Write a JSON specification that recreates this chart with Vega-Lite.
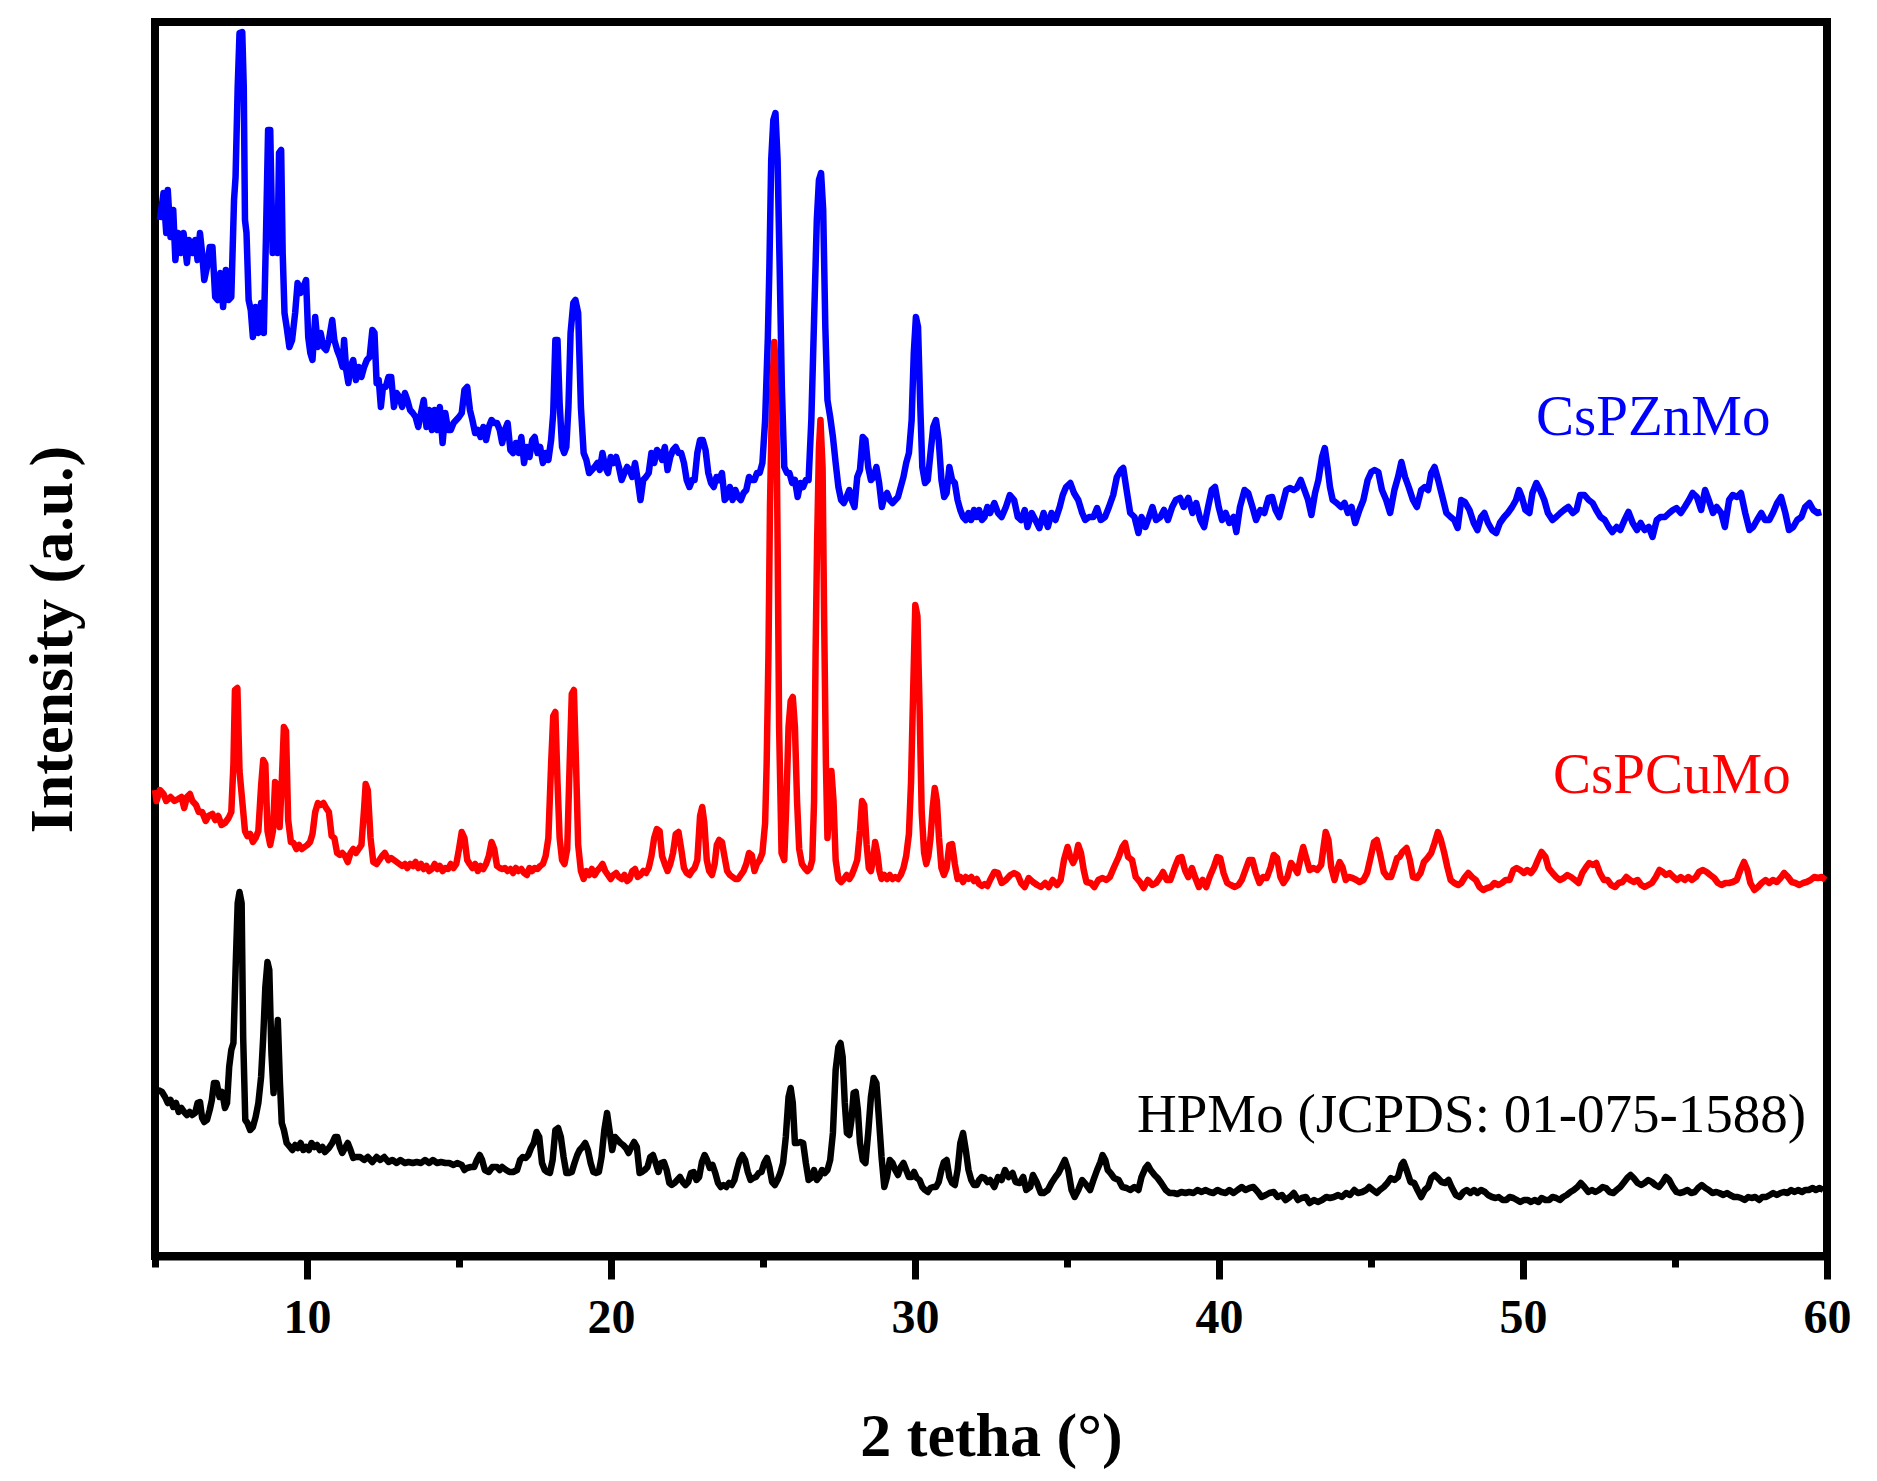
{
"$schema":"https://vega.github.io/schema/vega-lite/v6.json",
"autosize":{"type":"none"},
"width":1672,"height":1234,
"padding":{"left":155,"top":22,"right":50,"bottom":225},
"background":"white",
"config":{"view":{"stroke":"#000000","strokeWidth":8},"font":"Liberation Serif"},
"datasets":{
"zn":[{"x":5.16,"y":1036},{"x":5.28,"y":1063},{"x":5.37,"y":1023},{"x":5.42,"y":1066},{"x":5.51,"y":1019},{"x":5.6,"y":1046},{"x":5.67,"y":996},{"x":5.76,"y":1023},{"x":5.85,"y":1003},{"x":5.94,"y":1023},{"x":6.05,"y":993},{"x":6.12,"y":1016},{"x":6.23,"y":1003},{"x":6.32,"y":1016},{"x":6.4,"y":996},{"x":6.48,"y":1023},{"x":6.55,"y":1003},{"x":6.62,"y":976},{"x":6.71,"y":989},{"x":6.8,"y":1009},{"x":6.89,"y":1009},{"x":6.98,"y":959},{"x":7.06,"y":956},{"x":7.15,"y":983},{"x":7.24,"y":949},{"x":7.33,"y":986},{"x":7.42,"y":956},{"x":7.51,"y":959},{"x":7.6,"y":1056},{"x":7.65,"y":1079},{"x":7.72,"y":1169},{"x":7.78,"y":1223},{"x":7.87,"y":1224},{"x":7.92,"y":1169},{"x":7.96,"y":1036},{"x":8.01,"y":1023},{"x":8.08,"y":956},{"x":8.15,"y":946},{"x":8.22,"y":919},{"x":8.31,"y":949},{"x":8.4,"y":923},{"x":8.49,"y":953},{"x":8.58,"y":923},{"x":8.65,"y":1019},{"x":8.72,"y":1126},{"x":8.79,"y":1126},{"x":8.87,"y":1003},{"x":8.94,"y":1016},{"x":9.03,"y":1003},{"x":9.08,"y":1103},{"x":9.15,"y":1106},{"x":9.2,"y":1003},{"x":9.26,"y":943},{"x":9.33,"y":929},{"x":9.42,"y":909},{"x":9.51,"y":916},{"x":9.61,"y":943},{"x":9.69,"y":973},{"x":9.79,"y":963},{"x":9.88,"y":969},{"x":9.97,"y":976},{"x":10.04,"y":919},{"x":10.11,"y":903},{"x":10.18,"y":896},{"x":10.27,"y":939},{"x":10.36,"y":909},{"x":10.45,"y":923},{"x":10.54,"y":909},{"x":10.63,"y":906},{"x":10.72,"y":916},{"x":10.83,"y":936},{"x":10.9,"y":916},{"x":10.99,"y":906},{"x":11.08,"y":899},{"x":11.17,"y":889},{"x":11.22,"y":916},{"x":11.29,"y":886},{"x":11.36,"y":873},{"x":11.43,"y":889},{"x":11.52,"y":896},{"x":11.61,"y":876},{"x":11.7,"y":889},{"x":11.79,"y":879},{"x":11.88,"y":889},{"x":11.97,"y":896},{"x":12.06,"y":899},{"x":12.15,"y":926},{"x":12.22,"y":923},{"x":12.29,"y":873},{"x":12.36,"y":876},{"x":12.43,"y":849},{"x":12.5,"y":869},{"x":12.59,"y":869},{"x":12.68,"y":879},{"x":12.77,"y":879},{"x":12.86,"y":849},{"x":12.95,"y":863},{"x":13.04,"y":859},{"x":13.13,"y":849},{"x":13.22,"y":863},{"x":13.3,"y":856},{"x":13.39,"y":846},{"x":13.48,"y":843},{"x":13.57,"y":839},{"x":13.66,"y":829},{"x":13.75,"y":843},{"x":13.84,"y":856},{"x":13.93,"y":829},{"x":14.02,"y":846},{"x":14.11,"y":826},{"x":14.2,"y":846},{"x":14.29,"y":826},{"x":14.37,"y":849},{"x":14.46,"y":813},{"x":14.55,"y":843},{"x":14.64,"y":826},{"x":14.73,"y":826},{"x":14.82,"y":833},{"x":14.91,"y":836},{"x":15.0,"y":839},{"x":15.09,"y":843},{"x":15.18,"y":866},{"x":15.27,"y":869},{"x":15.36,"y":846},{"x":15.44,"y":836},{"x":15.53,"y":823},{"x":15.62,"y":826},{"x":15.71,"y":819},{"x":15.8,"y":829},{"x":15.89,"y":816},{"x":15.98,"y":829},{"x":16.07,"y":836},{"x":16.16,"y":833},{"x":16.25,"y":833},{"x":16.34,"y":826},{"x":16.42,"y":813},{"x":16.51,"y":826},{"x":16.6,"y":833},{"x":16.69,"y":806},{"x":16.78,"y":803},{"x":16.87,"y":813},{"x":16.96,"y":803},{"x":17.05,"y":819},{"x":17.14,"y":793},{"x":17.23,"y":809},{"x":17.32,"y":799},{"x":17.41,"y":816},{"x":17.49,"y":819},{"x":17.58,"y":803},{"x":17.67,"y":809},{"x":17.76,"y":793},{"x":17.85,"y":803},{"x":17.94,"y":796},{"x":18.03,"y":816},{"x":18.1,"y":843},{"x":18.17,"y":916},{"x":18.24,"y":916},{"x":18.31,"y":853},{"x":18.39,"y":809},{"x":18.46,"y":803},{"x":18.53,"y":809},{"x":18.6,"y":849},{"x":18.67,"y":923},{"x":18.76,"y":953},{"x":18.83,"y":956},{"x":18.92,"y":943},{"x":19.01,"y":849},{"x":19.1,"y":803},{"x":19.19,"y":796},{"x":19.28,"y":783},{"x":19.37,"y":786},{"x":19.46,"y":789},{"x":19.55,"y":793},{"x":19.63,"y":786},{"x":19.72,"y":803},{"x":19.81,"y":789},{"x":19.9,"y":783},{"x":19.99,"y":799},{"x":20.08,"y":793},{"x":20.17,"y":799},{"x":20.26,"y":789},{"x":20.35,"y":776},{"x":20.44,"y":783},{"x":20.53,"y":789},{"x":20.61,"y":786},{"x":20.7,"y":779},{"x":20.79,"y":793},{"x":20.88,"y":776},{"x":20.97,"y":756},{"x":21.06,"y":776},{"x":21.15,"y":779},{"x":21.24,"y":783},{"x":21.33,"y":803},{"x":21.42,"y":793},{"x":21.51,"y":806},{"x":21.6,"y":803},{"x":21.68,"y":796},{"x":21.77,"y":809},{"x":21.86,"y":786},{"x":21.95,"y":799},{"x":22.04,"y":806},{"x":22.13,"y":809},{"x":22.22,"y":803},{"x":22.31,"y":803},{"x":22.4,"y":793},{"x":22.49,"y":776},{"x":22.58,"y":769},{"x":22.67,"y":776},{"x":22.75,"y":776},{"x":22.84,"y":803},{"x":22.93,"y":816},{"x":23.02,"y":816},{"x":23.11,"y":806},{"x":23.2,"y":783},{"x":23.29,"y":773},{"x":23.38,"y":769},{"x":23.47,"y":779},{"x":23.56,"y":776},{"x":23.65,"y":783},{"x":23.74,"y":756},{"x":23.82,"y":759},{"x":23.91,"y":769},{"x":24.0,"y":756},{"x":24.09,"y":766},{"x":24.18,"y":759},{"x":24.27,"y":756},{"x":24.36,"y":763},{"x":24.45,"y":766},{"x":24.54,"y":779},{"x":24.63,"y":776},{"x":24.72,"y":776},{"x":24.8,"y":783},{"x":24.89,"y":783},{"x":24.98,"y":793},{"x":25.07,"y":836},{"x":25.16,"y":919},{"x":25.21,"y":989},{"x":25.27,"y":1096},{"x":25.34,"y":1136},{"x":25.41,"y":1143},{"x":25.48,"y":1096},{"x":25.55,"y":986},{"x":25.62,"y":869},{"x":25.7,"y":789},{"x":25.79,"y":783},{"x":25.87,"y":783},{"x":25.96,"y":773},{"x":26.05,"y":776},{"x":26.14,"y":759},{"x":26.23,"y":773},{"x":26.32,"y":769},{"x":26.41,"y":776},{"x":26.5,"y":776},{"x":26.59,"y":836},{"x":26.68,"y":936},{"x":26.77,"y":1036},{"x":26.84,"y":1076},{"x":26.91,"y":1083},{"x":26.98,"y":1046},{"x":27.05,"y":929},{"x":27.12,"y":856},{"x":27.21,"y":839},{"x":27.3,"y":819},{"x":27.39,"y":793},{"x":27.48,"y":769},{"x":27.57,"y":756},{"x":27.66,"y":753},{"x":27.75,"y":759},{"x":27.84,"y":766},{"x":27.92,"y":756},{"x":28.01,"y":749},{"x":28.1,"y":779},{"x":28.19,"y":786},{"x":28.28,"y":819},{"x":28.37,"y":816},{"x":28.46,"y":789},{"x":28.55,"y":776},{"x":28.64,"y":779},{"x":28.73,"y":789},{"x":28.82,"y":773},{"x":28.91,"y":749},{"x":28.99,"y":759},{"x":29.08,"y":763},{"x":29.17,"y":756},{"x":29.26,"y":753},{"x":29.35,"y":756},{"x":29.44,"y":759},{"x":29.53,"y":769},{"x":29.62,"y":779},{"x":29.71,"y":793},{"x":29.8,"y":803},{"x":29.89,"y":836},{"x":29.96,"y":903},{"x":30.03,"y":939},{"x":30.1,"y":929},{"x":30.17,"y":853},{"x":30.24,"y":789},{"x":30.33,"y":773},{"x":30.42,"y":776},{"x":30.51,"y":803},{"x":30.6,"y":829},{"x":30.69,"y":836},{"x":30.78,"y":816},{"x":30.87,"y":776},{"x":30.96,"y":759},{"x":31.04,"y":763},{"x":31.13,"y":789},{"x":31.22,"y":776},{"x":31.31,"y":773},{"x":31.4,"y":756},{"x":31.49,"y":746},{"x":31.58,"y":739},{"x":31.67,"y":736},{"x":31.76,"y":743},{"x":31.85,"y":736},{"x":31.94,"y":746},{"x":32.03,"y":739},{"x":32.11,"y":746},{"x":32.2,"y":736},{"x":32.29,"y":739},{"x":32.38,"y":749},
{"x":32.47,"y":743},{"x":32.61,"y":753},{"x":32.73,"y":743},{"x":32.85,"y":739},{"x":32.99,"y":749},{"x":33.12,"y":761},{"x":33.26,"y":756},{"x":33.38,"y":739},{"x":33.49,"y":736},{"x":33.61,"y":746},{"x":33.7,"y":729},{"x":33.84,"y":743},{"x":33.96,"y":736},{"x":34.09,"y":728},{"x":34.23,"y":743},{"x":34.37,"y":729},{"x":34.49,"y":743},{"x":34.62,"y":736},{"x":34.76,"y":749},{"x":34.86,"y":761},{"x":34.97,"y":769},{"x":35.11,"y":773},{"x":35.23,"y":763},{"x":35.37,"y":756},{"x":35.5,"y":743},{"x":35.6,"y":736},{"x":35.73,"y":739},{"x":35.87,"y":739},{"x":35.99,"y":748},{"x":36.11,"y":736},{"x":36.25,"y":739},{"x":36.38,"y":749},{"x":36.52,"y":761},{"x":36.64,"y":779},{"x":36.77,"y":786},{"x":36.85,"y":788},{"x":36.96,"y":766},{"x":37.08,"y":743},{"x":37.22,"y":739},{"x":37.35,"y":723},{"x":37.45,"y":739},{"x":37.58,"y":729},{"x":37.7,"y":739},{"x":37.81,"y":749},{"x":37.93,"y":736},{"x":38.07,"y":739},{"x":38.19,"y":746},{"x":38.32,"y":736},{"x":38.46,"y":749},{"x":38.58,"y":756},{"x":38.72,"y":758},{"x":38.84,"y":749},{"x":38.99,"y":758},{"x":39.13,"y":743},{"x":39.25,"y":753},{"x":39.39,"y":736},{"x":39.51,"y":729},{"x":39.64,"y":749},{"x":39.76,"y":766},{"x":39.87,"y":769},{"x":39.99,"y":749},{"x":40.1,"y":736},{"x":40.22,"y":743},{"x":40.34,"y":733},{"x":40.48,"y":739},{"x":40.57,"y":724},{"x":40.69,"y":749},{"x":40.84,"y":766},{"x":40.96,"y":763},{"x":41.1,"y":749},{"x":41.22,"y":736},{"x":41.36,"y":746},{"x":41.49,"y":743},{"x":41.63,"y":758},{"x":41.75,"y":759},{"x":41.86,"y":746},{"x":41.98,"y":739},{"x":42.1,"y":753},{"x":42.21,"y":766},{"x":42.33,"y":768},{"x":42.46,"y":766},{"x":42.56,"y":768},{"x":42.69,"y":776},{"x":42.81,"y":766},{"x":42.93,"y":756},{"x":43.04,"y":741},{"x":43.16,"y":763},{"x":43.27,"y":776},{"x":43.39,"y":799},{"x":43.48,"y":808},{"x":43.57,"y":789},{"x":43.65,"y":769},{"x":43.74,"y":756},{"x":43.87,"y":753},{"x":44.01,"y":749},{"x":44.13,"y":753},{"x":44.24,"y":743},{"x":44.36,"y":749},{"x":44.48,"y":733},{"x":44.62,"y":746},{"x":44.75,"y":756},{"x":44.89,"y":776},{"x":45.01,"y":784},{"x":45.12,"y":786},{"x":45.24,"y":784},{"x":45.36,"y":766},{"x":45.5,"y":756},{"x":45.63,"y":743},{"x":45.77,"y":766},{"x":45.89,"y":779},{"x":46.0,"y":794},{"x":46.12,"y":779},{"x":46.24,"y":769},{"x":46.38,"y":756},{"x":46.51,"y":749},{"x":46.65,"y":766},{"x":46.77,"y":769},{"x":46.88,"y":766},{"x":46.98,"y":783},{"x":47.09,"y":789},{"x":47.21,"y":776},{"x":47.35,"y":759},{"x":47.48,"y":743},{"x":47.62,"y":739},{"x":47.74,"y":736},{"x":47.85,"y":728},{"x":47.97,"y":756},{"x":48.09,"y":754},{"x":48.24,"y":746},{"x":48.38,"y":733},{"x":48.5,"y":726},{"x":48.62,"y":739},{"x":48.73,"y":743},{"x":48.85,"y":733},{"x":48.98,"y":726},{"x":49.12,"y":723},{"x":49.24,"y":733},{"x":49.38,"y":739},{"x":49.5,"y":743},{"x":49.64,"y":749},{"x":49.77,"y":756},{"x":49.87,"y":766},{"x":49.96,"y":759},{"x":50.08,"y":746},{"x":50.21,"y":743},{"x":50.31,"y":763},{"x":50.44,"y":773},{"x":50.56,"y":766},{"x":50.7,"y":756},{"x":50.82,"y":743},{"x":50.97,"y":736},{"x":51.09,"y":739},{"x":51.23,"y":743},{"x":51.35,"y":746},{"x":51.49,"y":749},{"x":51.64,"y":743},{"x":51.76,"y":746},{"x":51.88,"y":761},{"x":52.02,"y":761},{"x":52.16,"y":756},{"x":52.29,"y":753},{"x":52.41,"y":746},{"x":52.55,"y":739},{"x":52.69,"y":736},{"x":52.82,"y":729},{"x":52.94,"y":724},{"x":53.08,"y":729},{"x":53.2,"y":726},{"x":53.34,"y":736},{"x":53.47,"y":744},{"x":53.61,"y":733},{"x":53.75,"y":726},{"x":53.87,"y":733},{"x":54.0,"y":726},{"x":54.14,"y":729},{"x":54.26,"y":719},{"x":54.4,"y":736},{"x":54.52,"y":739},{"x":54.67,"y":739},{"x":54.81,"y":743},{"x":54.93,"y":746},{"x":55.05,"y":748},{"x":55.19,"y":743},{"x":55.32,"y":749},{"x":55.46,"y":756},{"x":55.58,"y":763},{"x":55.72,"y":759},{"x":55.86,"y":746},{"x":55.99,"y":766},{"x":56.11,"y":756},{"x":56.25,"y":743},{"x":56.37,"y":749},{"x":56.52,"y":743},{"x":56.64,"y":729},{"x":56.78,"y":756},{"x":56.9,"y":761},{"x":57.04,"y":759},{"x":57.17,"y":763},{"x":57.31,"y":743},{"x":57.45,"y":726},{"x":57.57,"y":729},{"x":57.7,"y":736},{"x":57.84,"y":743},{"x":57.96,"y":736},{"x":58.1,"y":736},{"x":58.22,"y":743},{"x":58.36,"y":753},{"x":58.49,"y":759},{"x":58.63,"y":743},{"x":58.75,"y":726},{"x":58.89,"y":729},{"x":59.02,"y":736},{"x":59.16,"y":739},{"x":59.28,"y":749},{"x":59.42,"y":753},{"x":59.55,"y":746},{"x":59.69,"y":743},{"x":59.81,"y":744}],
"cu":[{"x":5.0,"y":466},{"x":5.05,"y":455},{"x":5.16,"y":466},{"x":5.28,"y":462},{"x":5.37,"y":455},{"x":5.51,"y":459},{"x":5.64,"y":455},{"x":5.76,"y":457},{"x":5.87,"y":459},{"x":5.96,"y":448},{"x":6.05,"y":459},{"x":6.15,"y":462},{"x":6.23,"y":455},{"x":6.35,"y":451},{"x":6.44,"y":444},{"x":6.55,"y":444},{"x":6.67,"y":435},{"x":6.76,"y":440},{"x":6.89,"y":442},{"x":6.98,"y":436},{"x":7.08,"y":440},{"x":7.19,"y":431},{"x":7.3,"y":433},{"x":7.42,"y":438},{"x":7.51,"y":444},{"x":7.58,"y":492},{"x":7.63,"y":566},{"x":7.71,"y":568},{"x":7.78,"y":485},{"x":7.87,"y":455},{"x":7.96,"y":425},{"x":8.04,"y":420},{"x":8.13,"y":422},{"x":8.22,"y":414},{"x":8.31,"y":418},{"x":8.4,"y":425},{"x":8.49,"y":470},{"x":8.56,"y":496},{"x":8.63,"y":492},{"x":8.7,"y":425},{"x":8.79,"y":411},{"x":8.88,"y":425},{"x":8.95,"y":474},{"x":9.03,"y":470},{"x":9.1,"y":429},{"x":9.17,"y":474},{"x":9.24,"y":529},{"x":9.31,"y":525},{"x":9.38,"y":436},{"x":9.47,"y":414},{"x":9.56,"y":413},{"x":9.65,"y":407},{"x":9.74,"y":411},{"x":9.83,"y":407},{"x":9.92,"y":409},{"x":10.01,"y":411},{"x":10.1,"y":414},{"x":10.18,"y":422},{"x":10.27,"y":444},{"x":10.36,"y":453},{"x":10.45,"y":451},{"x":10.54,"y":453},{"x":10.63,"y":448},{"x":10.72,"y":444},{"x":10.81,"y":420},{"x":10.9,"y":418},{"x":10.99,"y":403},{"x":11.08,"y":401},{"x":11.16,"y":403},{"x":11.25,"y":400},{"x":11.34,"y":394},{"x":11.43,"y":403},{"x":11.52,"y":407},{"x":11.61,"y":403},{"x":11.7,"y":407},{"x":11.79,"y":411},{"x":11.88,"y":448},{"x":11.93,"y":472},{"x":12.0,"y":466},{"x":12.09,"y":418},{"x":12.18,"y":394},{"x":12.29,"y":392},{"x":12.38,"y":396},{"x":12.47,"y":400},{"x":12.56,"y":403},{"x":12.68,"y":396},{"x":12.77,"y":398},{"x":12.86,"y":396},{"x":12.95,"y":394},{"x":13.04,"y":392},{"x":13.13,"y":390},{"x":13.22,"y":392},{"x":13.3,"y":388},{"x":13.39,"y":392},{"x":13.48,"y":390},{"x":13.57,"y":394},{"x":13.66,"y":388},{"x":13.75,"y":392},{"x":13.84,"y":387},{"x":13.93,"y":390},{"x":14.02,"y":385},{"x":14.11,"y":387},{"x":14.2,"y":392},{"x":14.29,"y":387},{"x":14.37,"y":390},{"x":14.46,"y":385},{"x":14.55,"y":388},{"x":14.64,"y":387},{"x":14.73,"y":392},{"x":14.82,"y":388},{"x":14.91,"y":392},{"x":15.0,"y":407},{"x":15.09,"y":424},{"x":15.18,"y":418},{"x":15.27,"y":396},{"x":15.35,"y":392},{"x":15.44,"y":388},{"x":15.53,"y":392},{"x":15.62,"y":385},{"x":15.71,"y":390},{"x":15.8,"y":387},{"x":15.89,"y":392},{"x":15.98,"y":400},{"x":16.07,"y":414},{"x":16.16,"y":407},{"x":16.25,"y":390},{"x":16.34,"y":388},{"x":16.42,"y":387},{"x":16.51,"y":388},{"x":16.6,"y":385},{"x":16.69,"y":387},{"x":16.78,"y":383},{"x":16.87,"y":388},{"x":16.96,"y":385},{"x":17.05,"y":387},{"x":17.14,"y":383},{"x":17.23,"y":381},{"x":17.32,"y":388},{"x":17.4,"y":385},{"x":17.49,"y":388},{"x":17.58,"y":387},{"x":17.67,"y":390},{"x":17.76,"y":392},{"x":17.85,"y":400},{"x":17.94,"y":418},{"x":18.03,"y":492},{"x":18.1,"y":540},{"x":18.17,"y":544},{"x":18.24,"y":474},{"x":18.31,"y":418},{"x":18.39,"y":396},{"x":18.47,"y":392},{"x":18.56,"y":407},{"x":18.64,"y":492},{"x":18.71,"y":562},{"x":18.78,"y":566},{"x":18.85,"y":492},{"x":18.92,"y":411},{"x":19.01,"y":385},{"x":19.1,"y":377},{"x":19.19,"y":385},{"x":19.28,"y":381},{"x":19.37,"y":387},{"x":19.46,"y":381},{"x":19.54,"y":385},{"x":19.63,"y":388},{"x":19.72,"y":392},{"x":19.81,"y":385},{"x":19.9,"y":381},{"x":19.99,"y":377},{"x":20.08,"y":381},{"x":20.17,"y":383},{"x":20.26,"y":379},{"x":20.35,"y":377},{"x":20.44,"y":381},{"x":20.53,"y":375},{"x":20.61,"y":377},{"x":20.7,"y":385},{"x":20.79,"y":387},{"x":20.88,"y":379},{"x":20.97,"y":381},{"x":21.06,"y":385},{"x":21.15,"y":383},{"x":21.24,"y":388},{"x":21.33,"y":400},{"x":21.42,"y":418},{"x":21.51,"y":427},{"x":21.6,"y":425},{"x":21.68,"y":400},{"x":21.77,"y":392},{"x":21.86,"y":385},{"x":21.95,"y":392},{"x":22.04,"y":403},{"x":22.13,"y":422},{"x":22.22,"y":424},{"x":22.31,"y":407},{"x":22.4,"y":388},{"x":22.49,"y":383},{"x":22.58,"y":381},{"x":22.66,"y":385},{"x":22.75,"y":388},{"x":22.84,"y":396},{"x":22.93,"y":440},{"x":23.0,"y":449},{"x":23.07,"y":433},{"x":23.15,"y":396},{"x":23.23,"y":385},{"x":23.32,"y":381},{"x":23.41,"y":392},{"x":23.48,"y":411},{"x":23.56,"y":416},{"x":23.65,"y":414},{"x":23.73,"y":400},{"x":23.82,"y":385},{"x":23.91,"y":381},{"x":24.0,"y":379},{"x":24.09,"y":377},{"x":24.18,"y":377},{"x":24.27,"y":381},{"x":24.36,"y":385},{"x":24.45,"y":392},{"x":24.54,"y":403},{"x":24.63,"y":401},{"x":24.72,"y":385},{"x":24.8,"y":392},{"x":24.89,"y":396},{"x":24.98,"y":403},{"x":25.07,"y":433},{"x":25.12,"y":492},{"x":25.18,"y":603},{"x":25.23,"y":751},{"x":25.3,"y":862},{"x":25.37,"y":914},{"x":25.43,"y":881},{"x":25.48,"y":714},{"x":25.53,"y":529},{"x":25.61,"y":403},{"x":25.7,"y":396},{"x":25.77,"y":455},{"x":25.84,"y":529},{"x":25.91,"y":555},{"x":25.98,"y":559},{"x":26.05,"y":529},{"x":26.12,"y":455},{"x":26.19,"y":407},{"x":26.28,"y":392},{"x":26.37,"y":388},{"x":26.46,"y":385},{"x":26.55,"y":388},{"x":26.62,"y":396},{"x":26.68,"y":455},{"x":26.73,"y":603},{"x":26.78,"y":714},{"x":26.84,"y":807},{"x":26.89,"y":836},{"x":26.96,"y":788},{"x":27.01,"y":640},{"x":27.07,"y":492},{"x":27.12,"y":418},{"x":27.18,"y":444},{"x":27.25,"y":485},{"x":27.32,"y":455},{"x":27.39,"y":396},{"x":27.48,"y":377},{"x":27.57,"y":374},{"x":27.66,"y":377},{"x":27.75,"y":381},{"x":27.84,"y":377},{"x":27.92,"y":381},{"x":28.01,"y":388},{"x":28.1,"y":396},{"x":28.19,"y":425},{"x":28.26,"y":455},{"x":28.33,"y":451},{"x":28.41,"y":411},{"x":28.48,"y":388},{"x":28.55,"y":385},{"x":28.62,"y":396},{"x":28.69,"y":414},{"x":28.76,"y":403},{"x":28.83,"y":385},{"x":28.9,"y":377},{"x":28.99,"y":381},{"x":29.08,"y":377},{"x":29.17,"y":381},{"x":29.26,"y":377},{"x":29.35,"y":379},{"x":29.44,"y":377},{"x":29.53,"y":381},{"x":29.62,"y":388},{"x":29.71,"y":400},{"x":29.8,"y":422},{"x":29.87,"y":474},{"x":29.94,"y":566},{"x":30.01,"y":651},{"x":30.08,"y":640},{"x":30.15,"y":548},{"x":30.22,"y":444},{"x":30.3,"y":403},{"x":30.37,"y":392},{"x":30.44,"y":400},{"x":30.51,"y":418},{"x":30.58,"y":448},{"x":30.65,"y":468},{"x":30.72,"y":455},{"x":30.79,"y":418},{"x":30.87,"y":388},{"x":30.95,"y":381},{"x":31.04,"y":388},{"x":31.13,"y":411},{"x":31.22,"y":412},{"x":31.31,"y":392},{"x":31.4,"y":377},{"x":31.49,"y":379},{"x":31.58,"y":374},{"x":31.67,"y":379},{"x":31.76,"y":377},{"x":31.85,"y":379},{"x":31.94,"y":375},{"x":32.03,"y":377},{"x":32.11,"y":372},{"x":32.2,"y":370},{"x":32.29,"y":372},{"x":32.38,"y":370},
{"x":32.47,"y":376},{"x":32.61,"y":384},{"x":32.73,"y":383},{"x":32.85,"y":373},{"x":32.99,"y":376},{"x":33.14,"y":381},{"x":33.26,"y":383},{"x":33.38,"y":381},{"x":33.49,"y":373},{"x":33.61,"y":369},{"x":33.74,"y":378},{"x":33.88,"y":374},{"x":34.02,"y":371},{"x":34.14,"y":369},{"x":34.28,"y":373},{"x":34.4,"y":369},{"x":34.53,"y":376},{"x":34.67,"y":371},{"x":34.79,"y":376},{"x":34.9,"y":396},{"x":35.02,"y":409},{"x":35.11,"y":399},{"x":35.2,"y":393},{"x":35.29,"y":399},{"x":35.37,"y":411},{"x":35.46,"y":403},{"x":35.55,"y":386},{"x":35.64,"y":374},{"x":35.78,"y":373},{"x":35.9,"y":369},{"x":36.03,"y":376},{"x":36.17,"y":378},{"x":36.29,"y":376},{"x":36.41,"y":379},{"x":36.55,"y":389},{"x":36.7,"y":399},{"x":36.82,"y":409},{"x":36.91,"y":413},{"x":37.01,"y":399},{"x":37.14,"y":396},{"x":37.26,"y":379},{"x":37.4,"y":374},{"x":37.52,"y":368},{"x":37.66,"y":376},{"x":37.81,"y":371},{"x":37.93,"y":373},{"x":38.07,"y":379},{"x":38.16,"y":384},{"x":38.28,"y":376},{"x":38.4,"y":376},{"x":38.55,"y":389},{"x":38.67,"y":398},{"x":38.77,"y":399},{"x":38.88,"y":386},{"x":38.99,"y":379},{"x":39.11,"y":388},{"x":39.21,"y":379},{"x":39.34,"y":369},{"x":39.46,"y":376},{"x":39.58,"y":369},{"x":39.69,"y":379},{"x":39.83,"y":389},{"x":39.94,"y":399},{"x":40.04,"y":398},{"x":40.15,"y":383},{"x":40.27,"y":373},{"x":40.39,"y":371},{"x":40.52,"y":369},{"x":40.64,"y":371},{"x":40.75,"y":376},{"x":40.87,"y":386},{"x":40.99,"y":396},{"x":41.1,"y":396},{"x":41.21,"y":383},{"x":41.33,"y":373},{"x":41.45,"y":379},{"x":41.57,"y":378},{"x":41.7,"y":389},{"x":41.8,"y":401},{"x":41.91,"y":398},{"x":42.02,"y":379},{"x":42.12,"y":373},{"x":42.25,"y":379},{"x":42.37,"y":393},{"x":42.47,"y":389},{"x":42.58,"y":383},{"x":42.69,"y":399},{"x":42.77,"y":409},{"x":42.86,"y":399},{"x":42.98,"y":386},{"x":43.11,"y":388},{"x":43.23,"y":386},{"x":43.36,"y":391},{"x":43.44,"y":409},{"x":43.51,"y":424},{"x":43.6,"y":416},{"x":43.69,"y":389},{"x":43.8,"y":376},{"x":43.88,"y":386},{"x":43.97,"y":394},{"x":44.06,"y":389},{"x":44.17,"y":376},{"x":44.27,"y":379},{"x":44.39,"y":378},{"x":44.52,"y":376},{"x":44.62,"y":374},{"x":44.75,"y":376},{"x":44.87,"y":383},{"x":44.99,"y":399},{"x":45.1,"y":414},{"x":45.19,"y":416},{"x":45.29,"y":403},{"x":45.42,"y":384},{"x":45.54,"y":379},{"x":45.66,"y":379},{"x":45.77,"y":389},{"x":45.86,"y":398},{"x":45.94,"y":399},{"x":46.03,"y":404},{"x":46.17,"y":408},{"x":46.28,"y":396},{"x":46.38,"y":379},{"x":46.51,"y":378},{"x":46.63,"y":383},{"x":46.74,"y":394},{"x":46.86,"y":398},{"x":46.98,"y":403},{"x":47.09,"y":413},{"x":47.2,"y":424},{"x":47.3,"y":416},{"x":47.41,"y":403},{"x":47.51,"y":389},{"x":47.62,"y":376},{"x":47.74,"y":373},{"x":47.87,"y":371},{"x":47.97,"y":373},{"x":48.09,"y":379},{"x":48.2,"y":383},{"x":48.32,"y":379},{"x":48.45,"y":376},{"x":48.57,"y":369},{"x":48.69,"y":366},{"x":48.82,"y":368},{"x":48.94,"y":369},{"x":49.06,"y":373},{"x":49.19,"y":371},{"x":49.31,"y":373},{"x":49.43,"y":376},{"x":49.56,"y":376},{"x":49.68,"y":386},{"x":49.79,"y":388},{"x":49.91,"y":386},{"x":50.03,"y":383},{"x":50.14,"y":386},{"x":50.26,"y":383},{"x":50.38,"y":388},{"x":50.49,"y":396},{"x":50.61,"y":404},{"x":50.74,"y":399},{"x":50.84,"y":388},{"x":50.97,"y":383},{"x":51.09,"y":379},{"x":51.21,"y":376},{"x":51.34,"y":378},{"x":51.46,"y":381},{"x":51.58,"y":379},{"x":51.71,"y":376},{"x":51.83,"y":373},{"x":51.95,"y":383},{"x":52.08,"y":389},{"x":52.18,"y":393},{"x":52.3,"y":391},{"x":52.41,"y":393},{"x":52.53,"y":383},{"x":52.66,"y":376},{"x":52.78,"y":376},{"x":52.9,"y":371},{"x":53.03,"y":369},{"x":53.15,"y":373},{"x":53.27,"y":374},{"x":53.4,"y":379},{"x":53.52,"y":376},{"x":53.64,"y":374},{"x":53.77,"y":376},{"x":53.89,"y":371},{"x":54.0,"y":369},{"x":54.12,"y":371},{"x":54.24,"y":373},{"x":54.37,"y":379},{"x":54.49,"y":386},{"x":54.6,"y":384},{"x":54.7,"y":381},{"x":54.82,"y":383},{"x":54.95,"y":379},{"x":55.07,"y":376},{"x":55.19,"y":379},{"x":55.32,"y":376},{"x":55.44,"y":379},{"x":55.56,"y":376},{"x":55.69,"y":379},{"x":55.79,"y":384},{"x":55.92,"y":386},{"x":56.04,"y":384},{"x":56.16,"y":381},{"x":56.29,"y":378},{"x":56.41,"y":373},{"x":56.53,"y":371},{"x":56.66,"y":373},{"x":56.78,"y":373},{"x":56.9,"y":374},{"x":57.03,"y":376},{"x":57.15,"y":386},{"x":57.27,"y":394},{"x":57.38,"y":386},{"x":57.48,"y":373},{"x":57.61,"y":366},{"x":57.73,"y":369},{"x":57.85,"y":373},{"x":57.98,"y":376},{"x":58.1,"y":373},{"x":58.22,"y":376},{"x":58.35,"y":374},{"x":58.47,"y":378},{"x":58.59,"y":383},{"x":58.72,"y":379},{"x":58.84,"y":374},{"x":58.96,"y":373},{"x":59.09,"y":371},{"x":59.21,"y":373},{"x":59.33,"y":374},{"x":59.46,"y":376},{"x":59.58,"y":379},{"x":59.7,"y":378},{"x":59.83,"y":379},{"x":59.95,"y":376}],
"hp":[{"x":5.1,"y":166},{"x":5.23,"y":164},{"x":5.33,"y":159},{"x":5.42,"y":153},{"x":5.51,"y":156},{"x":5.6,"y":149},{"x":5.69,"y":153},{"x":5.78,"y":144},{"x":5.87,"y":148},{"x":5.96,"y":144},{"x":6.05,"y":141},{"x":6.14,"y":144},{"x":6.23,"y":141},{"x":6.32,"y":143},{"x":6.4,"y":153},{"x":6.48,"y":154},{"x":6.55,"y":138},{"x":6.62,"y":134},{"x":6.71,"y":136},{"x":6.8,"y":146},{"x":6.87,"y":156},{"x":6.94,"y":173},{"x":7.03,"y":173},{"x":7.12,"y":159},{"x":7.21,"y":164},{"x":7.3,"y":148},{"x":7.37,"y":153},{"x":7.44,"y":189},{"x":7.51,"y":206},{"x":7.58,"y":213},{"x":7.65,"y":286},{"x":7.72,"y":353},{"x":7.78,"y":364},{"x":7.85,"y":353},{"x":7.9,"y":219},{"x":7.97,"y":136},{"x":8.04,"y":133},{"x":8.13,"y":126},{"x":8.22,"y":129},{"x":8.31,"y":139},{"x":8.4,"y":153},{"x":8.49,"y":179},{"x":8.56,"y":219},{"x":8.63,"y":269},{"x":8.7,"y":294},{"x":8.76,"y":286},{"x":8.83,"y":203},{"x":8.9,"y":163},{"x":8.97,"y":203},{"x":9.04,"y":236},{"x":9.11,"y":173},{"x":9.17,"y":133},{"x":9.24,"y":126},{"x":9.33,"y":113},{"x":9.44,"y":109},{"x":9.52,"y":106},{"x":9.61,"y":111},{"x":9.7,"y":108},{"x":9.79,"y":113},{"x":9.88,"y":106},{"x":9.97,"y":109},{"x":10.06,"y":106},{"x":10.15,"y":113},{"x":10.24,"y":109},{"x":10.33,"y":111},{"x":10.42,"y":106},{"x":10.51,"y":109},{"x":10.59,"y":104},{"x":10.72,"y":108},{"x":10.83,"y":113},{"x":10.92,"y":119},{"x":11.0,"y":119},{"x":11.08,"y":109},{"x":11.16,"y":103},{"x":11.25,"y":108},{"x":11.34,"y":113},{"x":11.43,"y":106},{"x":11.52,"y":98},{"x":11.61,"y":99},{"x":11.75,"y":99},{"x":11.88,"y":96},{"x":12.0,"y":99},{"x":12.15,"y":94},{"x":12.29,"y":99},{"x":12.41,"y":96},{"x":12.54,"y":99},{"x":12.68,"y":94},{"x":12.81,"y":96},{"x":12.95,"y":93},{"x":13.07,"y":96},{"x":13.22,"y":93},{"x":13.34,"y":94},{"x":13.48,"y":93},{"x":13.61,"y":94},{"x":13.75,"y":93},{"x":13.88,"y":96},{"x":14.02,"y":93},{"x":14.14,"y":96},{"x":14.28,"y":93},{"x":14.41,"y":94},{"x":14.55,"y":93},{"x":14.68,"y":93},{"x":14.82,"y":91},{"x":14.94,"y":93},{"x":15.09,"y":91},{"x":15.18,"y":86},{"x":15.27,"y":88},{"x":15.39,"y":89},{"x":15.5,"y":89},{"x":15.59,"y":96},{"x":15.68,"y":101},{"x":15.76,"y":96},{"x":15.85,"y":86},{"x":15.98,"y":84},{"x":16.1,"y":89},{"x":16.25,"y":89},{"x":16.34,"y":86},{"x":16.42,"y":89},{"x":16.55,"y":86},{"x":16.66,"y":84},{"x":16.78,"y":84},{"x":16.91,"y":86},{"x":17.01,"y":96},{"x":17.1,"y":99},{"x":17.19,"y":98},{"x":17.28,"y":101},{"x":17.37,"y":108},{"x":17.46,"y":113},{"x":17.55,"y":124},{"x":17.64,"y":119},{"x":17.73,"y":93},{"x":17.82,"y":86},{"x":17.9,"y":84},{"x":17.99,"y":83},{"x":18.08,"y":96},{"x":18.17,"y":126},{"x":18.26,"y":128},{"x":18.35,"y":119},{"x":18.44,"y":99},{"x":18.53,"y":83},{"x":18.62,"y":83},{"x":18.71,"y":84},{"x":18.8,"y":93},{"x":18.89,"y":101},{"x":18.97,"y":106},{"x":19.06,"y":109},{"x":19.15,"y":113},{"x":19.24,"y":106},{"x":19.33,"y":93},{"x":19.42,"y":84},{"x":19.51,"y":83},{"x":19.6,"y":84},{"x":19.69,"y":99},{"x":19.78,"y":126},{"x":19.87,"y":143},{"x":19.95,"y":126},{"x":20.04,"y":106},{"x":20.13,"y":119},{"x":20.22,"y":116},{"x":20.31,"y":113},{"x":20.4,"y":111},{"x":20.49,"y":108},{"x":20.58,"y":103},{"x":20.67,"y":109},{"x":20.76,"y":114},{"x":20.85,"y":109},{"x":20.94,"y":83},{"x":21.02,"y":84},{"x":21.11,"y":86},{"x":21.2,"y":89},{"x":21.29,"y":99},{"x":21.38,"y":101},{"x":21.47,"y":93},{"x":21.56,"y":84},{"x":21.65,"y":93},{"x":21.74,"y":94},{"x":21.83,"y":86},{"x":21.92,"y":73},{"x":22.0,"y":71},{"x":22.09,"y":73},{"x":22.18,"y":76},{"x":22.27,"y":79},{"x":22.36,"y":74},{"x":22.45,"y":71},{"x":22.54,"y":74},{"x":22.63,"y":83},{"x":22.72,"y":84},{"x":22.81,"y":76},{"x":22.9,"y":79},{"x":22.99,"y":94},{"x":23.08,"y":101},{"x":23.16,"y":96},{"x":23.25,"y":88},{"x":23.34,"y":91},{"x":23.43,"y":83},{"x":23.52,"y":73},{"x":23.61,"y":69},{"x":23.7,"y":71},{"x":23.79,"y":69},{"x":23.88,"y":73},{"x":23.97,"y":71},{"x":24.06,"y":76},{"x":24.14,"y":86},{"x":24.23,"y":96},{"x":24.32,"y":101},{"x":24.41,"y":96},{"x":24.5,"y":84},{"x":24.59,"y":76},{"x":24.68,"y":78},{"x":24.77,"y":79},{"x":24.86,"y":83},{"x":24.95,"y":84},{"x":25.04,"y":93},{"x":25.13,"y":98},{"x":25.21,"y":89},{"x":25.3,"y":74},{"x":25.39,"y":71},{"x":25.48,"y":76},{"x":25.57,"y":83},{"x":25.66,"y":93},{"x":25.75,"y":119},{"x":25.84,"y":159},{"x":25.91,"y":168},{"x":25.98,"y":153},{"x":26.05,"y":113},{"x":26.14,"y":113},{"x":26.23,"y":114},{"x":26.32,"y":113},{"x":26.41,"y":93},{"x":26.5,"y":76},{"x":26.59,"y":78},{"x":26.68,"y":86},{"x":26.77,"y":76},{"x":26.85,"y":79},{"x":26.94,"y":86},{"x":27.03,"y":83},{"x":27.12,"y":86},{"x":27.21,"y":96},{"x":27.3,"y":123},{"x":27.39,"y":186},{"x":27.48,"y":209},{"x":27.55,"y":213},{"x":27.62,"y":199},{"x":27.69,"y":153},{"x":27.76,"y":123},{"x":27.84,"y":121},{"x":27.91,"y":136},{"x":27.98,"y":163},{"x":28.05,"y":164},{"x":28.12,"y":146},{"x":28.19,"y":113},{"x":28.28,"y":96},{"x":28.37,"y":93},{"x":28.46,"y":123},{"x":28.55,"y":159},{"x":28.64,"y":178},{"x":28.73,"y":173},{"x":28.81,"y":139},{"x":28.9,"y":99},{"x":28.99,"y":69},{"x":29.08,"y":79},{"x":29.17,"y":96},{"x":29.26,"y":93},{"x":29.35,"y":86},{"x":29.44,"y":81},{"x":29.53,"y":89},{"x":29.62,"y":93},{"x":29.71,"y":86},{"x":29.8,"y":79},{"x":29.89,"y":79},{"x":29.97,"y":84},{"x":30.06,"y":78},{"x":30.15,"y":76},{"x":30.24,"y":69},{"x":30.33,"y":66},{"x":30.42,"y":64},{"x":30.51,"y":68},{"x":30.6,"y":69},{"x":30.69,"y":69},{"x":30.78,"y":74},{"x":30.87,"y":86},{"x":30.95,"y":94},{"x":31.04,"y":96},{"x":31.13,"y":79},{"x":31.22,"y":73},{"x":31.31,"y":71},{"x":31.4,"y":86},{"x":31.49,"y":113},{"x":31.58,"y":123},{"x":31.67,"y":106},{"x":31.76,"y":86},{"x":31.85,"y":76},{"x":31.94,"y":71},{"x":32.03,"y":71},{"x":32.11,"y":76},{"x":32.2,"y":79},{"x":32.29,"y":78},{"x":32.38,"y":74},
{"x":32.47,"y":76},{"x":32.61,"y":69},{"x":32.73,"y":79},{"x":32.85,"y":76},{"x":32.96,"y":86},{"x":33.08,"y":79},{"x":33.21,"y":83},{"x":33.31,"y":74},{"x":33.44,"y":73},{"x":33.56,"y":79},{"x":33.66,"y":66},{"x":33.79,"y":69},{"x":33.88,"y":81},{"x":34.0,"y":74},{"x":34.14,"y":63},{"x":34.23,"y":63},{"x":34.37,"y":66},{"x":34.49,"y":73},{"x":34.62,"y":79},{"x":34.72,"y":83},{"x":34.85,"y":91},{"x":34.93,"y":96},{"x":35.04,"y":86},{"x":35.15,"y":66},{"x":35.25,"y":59},{"x":35.37,"y":66},{"x":35.5,"y":76},{"x":35.64,"y":71},{"x":35.76,"y":66},{"x":35.87,"y":76},{"x":35.99,"y":86},{"x":36.1,"y":94},{"x":36.17,"y":101},{"x":36.26,"y":96},{"x":36.34,"y":86},{"x":36.43,"y":83},{"x":36.55,"y":78},{"x":36.7,"y":76},{"x":36.82,"y":69},{"x":36.96,"y":68},{"x":37.08,"y":66},{"x":37.22,"y":69},{"x":37.35,"y":66},{"x":37.45,"y":79},{"x":37.58,"y":88},{"x":37.66,"y":91},{"x":37.75,"y":86},{"x":37.88,"y":81},{"x":37.98,"y":78},{"x":38.1,"y":73},{"x":38.25,"y":66},{"x":38.37,"y":63},{"x":38.51,"y":63},{"x":38.63,"y":62},{"x":38.76,"y":64},{"x":38.9,"y":63},{"x":39.02,"y":64},{"x":39.16,"y":63},{"x":39.29,"y":66},{"x":39.43,"y":64},{"x":39.55,"y":66},{"x":39.69,"y":64},{"x":39.81,"y":63},{"x":39.95,"y":66},{"x":40.08,"y":64},{"x":40.22,"y":63},{"x":40.34,"y":66},{"x":40.48,"y":63},{"x":40.61,"y":66},{"x":40.75,"y":69},{"x":40.87,"y":66},{"x":41.01,"y":68},{"x":41.13,"y":69},{"x":41.28,"y":64},{"x":41.4,"y":59},{"x":41.54,"y":61},{"x":41.66,"y":63},{"x":41.8,"y":64},{"x":41.93,"y":59},{"x":42.07,"y":61},{"x":42.19,"y":56},{"x":42.33,"y":59},{"x":42.46,"y":63},{"x":42.6,"y":56},{"x":42.72,"y":58},{"x":42.86,"y":59},{"x":42.98,"y":53},{"x":43.13,"y":56},{"x":43.25,"y":54},{"x":43.39,"y":56},{"x":43.53,"y":59},{"x":43.65,"y":58},{"x":43.78,"y":59},{"x":43.92,"y":61},{"x":44.04,"y":59},{"x":44.18,"y":63},{"x":44.31,"y":61},{"x":44.45,"y":66},{"x":44.57,"y":63},{"x":44.71,"y":64},{"x":44.84,"y":66},{"x":44.94,"y":69},{"x":45.06,"y":66},{"x":45.19,"y":63},{"x":45.29,"y":66},{"x":45.42,"y":69},{"x":45.54,"y":73},{"x":45.65,"y":78},{"x":45.77,"y":76},{"x":45.89,"y":79},{"x":46.0,"y":91},{"x":46.07,"y":94},{"x":46.17,"y":86},{"x":46.3,"y":74},{"x":46.42,"y":73},{"x":46.53,"y":66},{"x":46.65,"y":59},{"x":46.77,"y":66},{"x":46.88,"y":69},{"x":46.98,"y":78},{"x":47.09,"y":81},{"x":47.2,"y":78},{"x":47.32,"y":74},{"x":47.44,"y":73},{"x":47.55,"y":76},{"x":47.65,"y":69},{"x":47.79,"y":61},{"x":47.92,"y":59},{"x":48.04,"y":64},{"x":48.15,"y":66},{"x":48.27,"y":63},{"x":48.39,"y":66},{"x":48.5,"y":63},{"x":48.62,"y":66},{"x":48.75,"y":64},{"x":48.85,"y":61},{"x":48.98,"y":59},{"x":49.1,"y":58},{"x":49.2,"y":59},{"x":49.33,"y":56},{"x":49.45,"y":56},{"x":49.56,"y":59},{"x":49.68,"y":58},{"x":49.8,"y":56},{"x":49.91,"y":54},{"x":50.03,"y":56},{"x":50.16,"y":56},{"x":50.26,"y":54},{"x":50.38,"y":56},{"x":50.51,"y":54},{"x":50.61,"y":58},{"x":50.74,"y":56},{"x":50.86,"y":56},{"x":50.97,"y":59},{"x":51.09,"y":58},{"x":51.21,"y":56},{"x":51.32,"y":59},{"x":51.44,"y":61},{"x":51.56,"y":64},{"x":51.67,"y":66},{"x":51.79,"y":69},{"x":51.9,"y":73},{"x":52.02,"y":69},{"x":52.15,"y":64},{"x":52.27,"y":66},{"x":52.38,"y":64},{"x":52.5,"y":66},{"x":52.62,"y":69},{"x":52.73,"y":68},{"x":52.85,"y":64},{"x":52.97,"y":63},{"x":53.08,"y":66},{"x":53.2,"y":69},{"x":53.33,"y":74},{"x":53.43,"y":78},{"x":53.54,"y":81},{"x":53.64,"y":78},{"x":53.77,"y":73},{"x":53.89,"y":71},{"x":54.0,"y":73},{"x":54.12,"y":76},{"x":54.24,"y":74},{"x":54.35,"y":71},{"x":54.47,"y":69},{"x":54.6,"y":74},{"x":54.7,"y":79},{"x":54.81,"y":76},{"x":54.93,"y":69},{"x":55.05,"y":64},{"x":55.16,"y":63},{"x":55.28,"y":64},{"x":55.41,"y":66},{"x":55.53,"y":63},{"x":55.65,"y":64},{"x":55.76,"y":68},{"x":55.88,"y":71},{"x":56.0,"y":68},{"x":56.11,"y":66},{"x":56.23,"y":63},{"x":56.36,"y":64},{"x":56.46,"y":63},{"x":56.59,"y":61},{"x":56.71,"y":63},{"x":56.81,"y":61},{"x":56.94,"y":59},{"x":57.06,"y":59},{"x":57.17,"y":58},{"x":57.29,"y":56},{"x":57.41,"y":59},{"x":57.52,"y":58},{"x":57.64,"y":59},{"x":57.77,"y":56},{"x":57.87,"y":59},{"x":58.0,"y":59},{"x":58.12,"y":61},{"x":58.23,"y":63},{"x":58.35,"y":61},{"x":58.47,"y":63},{"x":58.58,"y":64},{"x":58.7,"y":63},{"x":58.82,"y":66},{"x":58.93,"y":64},{"x":59.05,"y":66},{"x":59.18,"y":64},{"x":59.28,"y":66},{"x":59.4,"y":66},{"x":59.53,"y":68},{"x":59.63,"y":66},{"x":59.76,"y":68},{"x":59.88,"y":66}]
},
"encoding":{
"x":{"field":"x","type":"quantitative","scale":{"domain":[5,60],"nice":false,"zero":false},
 "axis":{"title":"2 tetha (°)","values":[5,10,15,20,25,30,35,40,45,50,55,60],
  "labelExpr":"datum.value % 10 === 0 ? datum.label : ''",
  "grid":false,"domain":true,"domainColor":"#000000","domainWidth":8,
  "ticks":true,"tickColor":"#000000","tickWidth":7,
  "tickSize":{"condition":{"test":"datum.value % 10 === 0","value":23},"value":11},
  "labelFont":"Liberation Serif","labelFontWeight":"bold","labelFontSize":48,"labelColor":"#000000",
  "labelPadding":15,"labelFlush":false,"labelOverlap":false,"labelBound":false,
  "titleFont":"Liberation Serif","titleFontWeight":"bold","titleFontSize":62,"titleColor":"#000000",
  "titleX":836,"titleY":199,"titleBaseline":"alphabetic","titleAlign":"center"}},
"y":{"field":"y","type":"quantitative","scale":{"domain":[0,1234],"nice":false,"zero":false},
 "axis":{"title":"Intensity (a.u.)","domain":false,"ticks":false,"labels":false,"grid":false,
  "titleFont":"Liberation Serif","titleFontWeight":"bold","titleFontSize":62,"titleColor":"#000000",
  "titleX":-71,"titleY":617,"titleAngle":270,"titleAlign":"center","titleBaseline":"bottom"}}
},
"layer":[
{"data":{"name":"hp"},"mark":{"type":"line","color":"#000000","strokeWidth":6.5,"strokeJoin":"round"}},
{"data":{"name":"cu"},"mark":{"type":"line","color":"#ff0000","strokeWidth":6.5,"strokeJoin":"round"}},
{"data":{"name":"zn"},"mark":{"type":"line","color":"#0000ff","strokeWidth":6.5,"strokeJoin":"round"}},
{"data":{"values":[{"x":50.43,"y":821,"label":"CsPZnMo"}]},"mark":{"type":"text","align":"left","baseline":"alphabetic","font":"Liberation Serif","fontSize":57,"color":"#0000ff"},"encoding":{"text":{"field":"label"}}},
{"data":{"values":[{"x":50.99,"y":463,"label":"CsPCuMo"}]},"mark":{"type":"text","align":"left","baseline":"alphabetic","font":"Liberation Serif","fontSize":57,"color":"#ff0000"},"encoding":{"text":{"field":"label"}}},
{"data":{"values":[{"x":37.3,"y":124,"label":"HPMo (JCPDS: 01-075-1588)"}]},"mark":{"type":"text","align":"left","baseline":"alphabetic","font":"Liberation Serif","fontSize":55,"color":"#000000"},"encoding":{"text":{"field":"label"}}}
]
}
